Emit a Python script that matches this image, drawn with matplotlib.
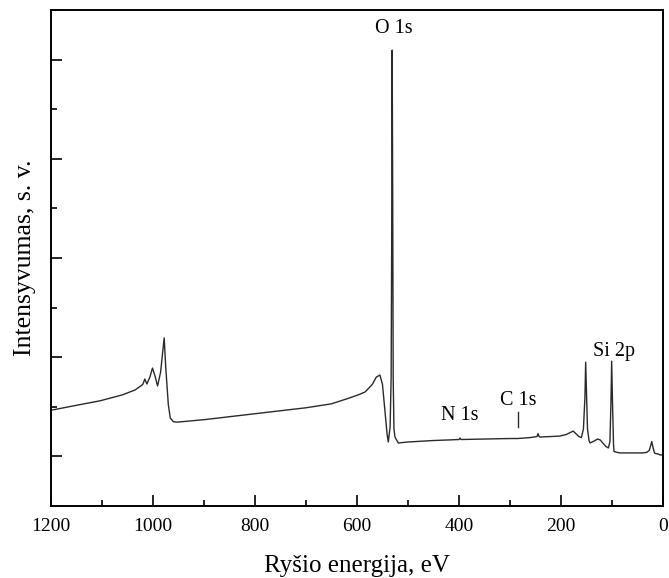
import matplotlib
matplotlib.use("Agg")
import matplotlib.pyplot as plt
from matplotlib.ticker import MultipleLocator, NullFormatter

# XPS survey spectrum: binding energy (eV) and intensity (arb. units)
energy = [1200, 1150, 1104, 1060, 1035, 1020, 1016, 1012, 1006, 1001, 996, 991,
          985, 981, 978, 975, 970, 966, 960, 953, 900, 850, 800, 750, 700,
          650, 614, 595, 584, 570, 562, 555, 550, 545, 541, 538.6, 535, 533,
          532, 531, 530, 529, 527.5, 525.5, 519, 500, 450, 424, 400, 398, 396,
          350, 300, 285, 260, 247, 245, 243, 241, 220, 202, 190, 180, 176, 172,
          165, 160, 156, 153, 151.6, 150, 148, 145, 143, 135, 128, 123, 118,
          112, 107, 104, 102, 100.6, 99, 97, 96, 90, 84, 60, 40, 32, 27, 24,
          22, 20, 17, 15.7, 10, 6, 0]
intensity = [1.93, 2.03, 2.12, 2.24, 2.34, 2.45, 2.56, 2.46, 2.60, 2.78, 2.62, 2.42,
             2.70, 3.10, 3.39, 2.80, 2.05, 1.77, 1.70, 1.69, 1.74, 1.80, 1.86, 1.92, 1.98,
             2.06, 2.18, 2.25, 2.30, 2.45, 2.60, 2.64, 2.45, 1.90, 1.45, 1.29, 1.60, 2.60,
             5.20, 9.19, 6.40, 2.60, 1.55, 1.39, 1.27, 1.29, 1.32, 1.33, 1.34, 1.37, 1.34,
             1.35, 1.36, 1.36, 1.38, 1.40, 1.46, 1.40, 1.39, 1.40, 1.41, 1.44, 1.49, 1.51, 1.47,
             1.40, 1.38, 1.55, 2.20, 2.90, 2.30, 1.55, 1.32, 1.27, 1.31, 1.35, 1.33, 1.27,
             1.20, 1.17, 1.30, 2.10, 2.92, 2.10, 1.25, 1.10, 1.08, 1.07, 1.07, 1.07, 1.08, 1.12, 1.22,
             1.30, 1.20, 1.08, 1.06, 1.05, 1.03, 1.03]

# Peak labels: (text, energy, intensity)
peak_labels = [("O 1s", 527.4, 9.62), ("Si 2p", 96.0, 3.12),
               ("N 1s", 398.0, 1.83), ("C 1s", 284.3, 2.12)]
c1s_marker = (285.0, 1.59, 1.90)

plt.rcParams['font.family'] = ['Liberation Serif', 'DejaVu Serif']

fig = plt.figure(figsize=(6.69, 5.78), dpi=100)
ax = fig.add_axes([0.0762, 0.1246, 0.9148, 0.8581])

ax.plot(energy, intensity, color='#2a2a2a', lw=1.0)

ax.set_xlim(1200, 0)
ax.set_ylim(0, 10)

ax.xaxis.set_major_locator(MultipleLocator(200))
ax.xaxis.set_minor_locator(MultipleLocator(100))
ax.yaxis.set_major_locator(MultipleLocator(2, offset=1))
ax.yaxis.set_minor_locator(MultipleLocator(1))
ax.yaxis.set_major_formatter(NullFormatter())

ax.tick_params(which='major', direction='in', length=8, width=1.2,
               labelsize=14, pad=9)
ax.tick_params(which='minor', direction='in', length=4, width=1.2)
ax.tick_params(axis='y', which='both', left=True, right=False)
ax.tick_params(axis='x', which='both', bottom=True, top=False)

for sp in ax.spines.values():
    sp.set_linewidth(1.4)

ax.set_xlabel("Ryšio energija, eV", fontsize=18, labelpad=14)
ax.set_ylabel("Intensyvumas, s. v.", fontsize=18.5, labelpad=2)

for text, x, y in peak_labels:
    ax.text(x, y, text, fontsize=14.5, ha='center', va='center')
ax.plot([c1s_marker[0], c1s_marker[0]], [c1s_marker[1], c1s_marker[2]],
        color='#2a2a2a', lw=1.0)

fig.savefig("out.png", dpi=100)
